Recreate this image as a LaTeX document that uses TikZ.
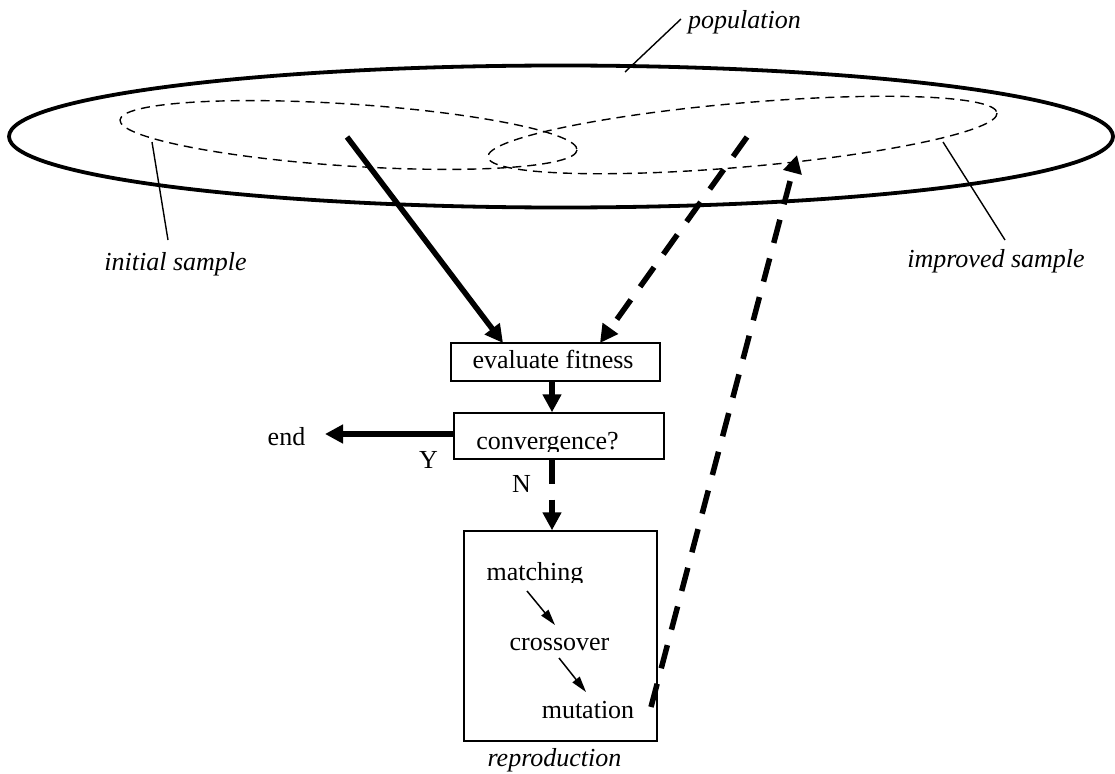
\documentclass[tikz,border=0pt]{standalone}
\usepackage{fontspec}
\setmainfont{Liberation Serif}
\usetikzlibrary{arrows.meta}
\begin{document}
\begin{tikzpicture}[x=1pt,y=-1pt,
  box/.style={draw,line width=1.4pt,inner sep=0pt},
  txt/.style={anchor=base,inner sep=0pt,font=\fontsize{26}{30}\selectfont},
  itxt/.style={anchor=base,inner sep=0pt,font=\fontsize{26}{30}\selectfont\itshape},
  leader/.style={line width=1.4pt},
  sample/.style={line width=1.4pt,dash pattern=on 9pt off 6pt},
  bigarrow/.style={line width=5.5pt,-{Triangle[length=18pt,width=18pt]}},
  dasharrow/.style={bigarrow,dash pattern=on 24pt off 16pt},
  smallarrow/.style={line width=1.5pt,-{Triangle[length=16pt,width=9pt]}}]
\useasboundingbox (0,0) rectangle (1115,773);

% population and samples
\draw[line width=3.8pt] (561,136.5) ellipse [x radius=552, y radius=71];
\draw[sample,rotate around={-3.76:(348.5,135)}] (348.5,135) ellipse [x radius=229, y radius=31];
\draw[sample,rotate around={4.94:(742.5,135)}] (742.5,135) ellipse [x radius=255.5, y radius=32];

% labels with leaders
\node[itxt,anchor=base west] (pop) at (688,29) {population};
\coordinate (popA) at (625,72);
\coordinate (popB) at (681,19);
\draw[leader] (popA) -- (popB);

\node[itxt] (init) at (175.5,270) {initial sample};
\coordinate (initA) at (152,142);
\coordinate (initB) at (168,240);
\draw[leader] (initA) -- (initB);

\node[itxt] (impr) at (996,267) {improved sample};
\coordinate (imprA) at (943,142);
\coordinate (imprB) at (1005,240);
\draw[leader] (imprA) -- (imprB);

% boxes
\node[box,minimum width=209pt,minimum height=38pt] (eval) at (555.5,362) {};
\node[box,minimum width=210pt,minimum height=46pt] (conv) at (559,436) {};
\node[box,minimum width=193pt,minimum height=210pt] (rep) at (560.5,636) {};

\node[txt] (evalt) at (553,368) {evaluate fitness};
\begin{scope}
  \clip (454,413) rectangle (664,451);
  \node[txt] (convt) at (547.5,449) {convergence?};
\end{scope}
\begin{scope}
  \clip (464,531) rectangle (657,582);
  \node[txt] (match) at (535,580) {matching};
\end{scope}
\node[txt] (cross) at (559.5,650) {crossover};
\node[txt] (mut) at (588,718) {mutation};
\node[itxt] (reprt) at (554.5,766) {reproduction};

\node[txt] (endt) at (286.5,445) {end};
\node[txt] (yes) at (428.5,468) {Y};
\node[txt] (no) at (521.5,492) {N};

% flow
\coordinate (s1) at (347,137);
\coordinate (t1) at (503,343);
\draw[bigarrow] (s1) -- (t1);

\coordinate (s2) at (747,137);
\coordinate (t2) at (600,343);
\draw[dasharrow] (s2) -- (t2);

\draw[bigarrow] ([xshift=-3.5pt]eval.south) -- ([xshift=-7pt]conv.north);

\coordinate (endtip) at (325,434);
\draw[bigarrow] ([yshift=2pt]conv.west) -- (endtip);

\draw[dasharrow] ([xshift=-7pt]conv.south) -- ([xshift=-8.5pt]rep.north);

\coordinate (m1) at (527,591);
\coordinate (m2) at (555,625);
\draw[smallarrow] (m1) -- (m2);
\coordinate (c1) at (559,658);
\coordinate (c2) at (586,692);
\draw[smallarrow] (c1) -- (c2);

\coordinate (s3) at (651,707);
\coordinate (t3) at (797,155);
\draw[dasharrow] (s3) -- (t3);
\end{tikzpicture}
\end{document}
